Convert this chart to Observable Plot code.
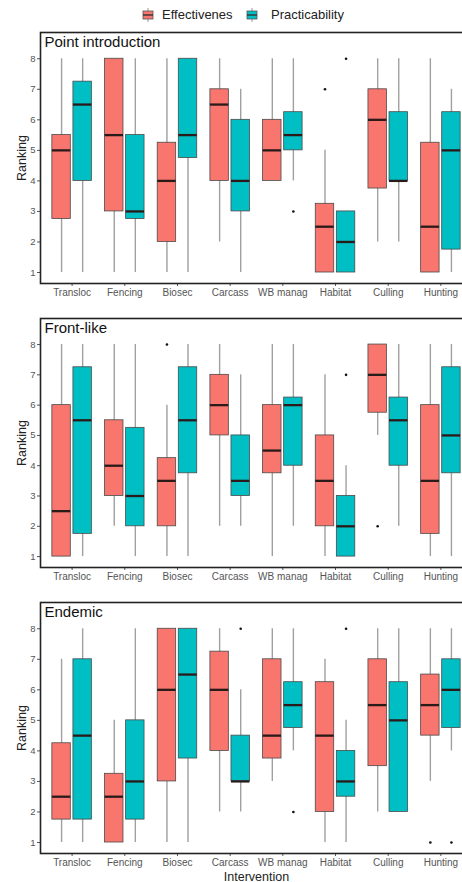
<!DOCTYPE html>
<html>
<head>
<meta charset="utf-8">
<script src="https://cdn.jsdelivr.net/npm/d3@7"></script>
<script src="https://cdn.jsdelivr.net/npm/@observablehq/plot@0.6"></script>
<style>
  html, body { margin: 0; padding: 0; background: #fff; }
  body { width: 462px; height: 882px; overflow: hidden; position: relative; font-family: "Liberation Sans", Arial, sans-serif; }
  .panel { position: absolute; left: 0; width: 472px; }
  .panel svg { max-width: none !important; }
  .leg { position: absolute; font-size: 13px; color: #222; }
</style>
</head>
<body>
<div id="legend"></div>
<div id="p0" class="panel" style="top:28px"></div>
<div id="p1" class="panel" style="top:314px"></div>
<div id="p2" class="panel" style="top:598px"></div>
<script>
const interventions = ["Transloc", "Fencing", "Biosec", "Carcass", "WB manag", "Habitat", "Culling", "Hunting"];
const groups = ["Effectivenes", "Practicability"];
const panelTitles = ["Point introduction", "Front-like", "Endemic"];
const yTicks = [1, 2, 3, 4, 5, 6, 7, 8];

// [lower whisker, q1, median, q3, upper whisker] per intervention
const pointEff  = [[1,2.75,5,5.5,8],[1,3,5.5,8,8],[1,2,4,5.25,8],[2,4,6.5,7,8],[4,4,5,6,8],[1,1,2.5,3.25,5],[2,3.75,6,7,8],[1,1,2.5,5.25,8]];
const pointPrac = [[1,4,6.5,7.25,8],[1,2.75,3,5.5,8],[1,4.75,5.5,8,8],[1,3,4,6,7],[4,5,5.5,6.25,8],[1,1,2,3,3],[2,4,4,6.25,8],[1,1.75,5,6.25,7]];
const frontEff  = [[1,1,2.5,6,8],[2,3,4,5.5,8],[1,2,3.5,4.25,6],[2,5,6,7,8],[1,3.75,4.5,6,8],[1,2,3.5,5,7],[5,5.75,7,8,8],[1,1.75,3.5,6,8]];
const frontPrac = [[1,1.75,5.5,7.25,8],[1,2,3,5.25,8],[1,3.75,5.5,7.25,8],[2,3,3.5,5,7],[2,4,6,6.25,8],[1,1,2,3,4],[2,4,5.5,6.25,8],[1,3.75,5,7.25,8]];
const endEff    = [[1,1.75,2.5,4.25,7],[1,1,2.5,3.25,5],[1,3,6,8,8],[2,4,6,7.25,8],[3,3.75,4.5,7,8],[1,2,4.5,6.25,7],[2,3.5,5.5,7,8],[3,4.5,5.5,6.5,8]];
const endPrac   = [[1,1.75,4.5,7,8],[1,1.75,3,5,8],[1,3.75,6.5,8,8],[2,3,3,4.5,6],[4,4.75,5.5,6.25,8],[1,2.5,3,4,5],[2,2,5,6.25,8],[4,4.75,6,7,8]];

// outliers: [panel, intervention, group, value]
const outliers = [
  [0, "WB manag", "Practicability", 3], [0, "Habitat", "Effectivenes", 7], [0, "Habitat", "Practicability", 8],
  [1, "Biosec", "Effectivenes", 8], [1, "Habitat", "Practicability", 7], [1, "Culling", "Effectivenes", 2],
  [2, "Carcass", "Practicability", 8], [2, "WB manag", "Practicability", 2], [2, "Habitat", "Practicability", 8],
  [2, "Hunting", "Effectivenes", 1], [2, "Hunting", "Practicability", 1]
];

const colors = ["#F8766D", "#00BFC4"];
const panelStats = [[pointEff, pointPrac], [frontEff, frontPrac], [endEff, endPrac]];
const dodge = 0.2, half = 0.175;
const xPos = (name, g) => interventions.indexOf(name) + (g === groups[0] ? -dodge : dodge);

function buildBoxes(p) {
  const rows = [];
  panelStats[p].forEach((arr, gi) => {
    arr.forEach((s, i) => {
      const xc = xPos(interventions[i], groups[gi]);
      rows.push({group: groups[gi], xc, x1: xc - half, x2: xc + half, lo: s[0], q1: s[1], med: s[2], q3: s[3], hi: s[4]});
    });
  });
  return rows;
}

// legend
const legend = document.getElementById("legend");
function icon(left, color) {
  const ns = "http://www.w3.org/2000/svg";
  const svg = document.createElementNS(ns, "svg");
  svg.setAttribute("width", 12); svg.setAttribute("height", 14);
  svg.style.position = "absolute"; svg.style.left = left + "px"; svg.style.top = "8px";
  svg.innerHTML = `<line x1="6" x2="6" y1="0" y2="14" stroke="#999" stroke-width="1"/>
    <rect x="1" y="3" width="10" height="8" fill="${color}" stroke="#555" stroke-width="0.8"/>
    <line x1="1" x2="11" y1="7" y2="7" stroke="#333" stroke-width="1.4"/>`;
  legend.appendChild(svg);
}
function label(left, text) {
  const d = document.createElement("div");
  d.className = "leg"; d.style.left = left + "px"; d.style.top = "7px"; d.textContent = text;
  legend.appendChild(d);
}
icon(142, colors[0]); label(162, groups[0]);
icon(246, colors[1]); label(271, groups[1]);

const frameH = [251, 249, 251];
panelTitles.forEach((title, p) => {
  const last = p === 2;
  const mb = last ? 29 : 22;
  const boxes = buildBoxes(p);
  const outs = outliers.filter(o => o[0] === p).map(o => ({xc: xPos(o[1], o[2]), v: o[3]}));
  const chart = Plot.plot({
    width: 472,
    height: 4 + frameH[p] + mb,
    marginLeft: 40, marginRight: 0, marginTop: 4, marginBottom: mb,
    style: {fontFamily: "Liberation Sans, Arial, sans-serif", background: "transparent", overflow: "visible", maxWidth: "none"},
    x: {domain: [-0.6, 7.6]},
    y: {domain: [0.64, 8.86]},
    color: {domain: groups, range: colors},
    marks: [
      Plot.ruleX(boxes, {x: "xc", y1: "lo", y2: "hi", stroke: "#a0a0a0", strokeWidth: 1.4}),
      Plot.rect(boxes, {x1: "x1", x2: "x2", y1: "q1", y2: "q3", fill: "group", stroke: "#4a4a4a", strokeWidth: 0.8}),
      Plot.ruleY(boxes, {x1: "x1", x2: "x2", y: "med", stroke: "#2a1a1a", strokeWidth: 2.3}),
      Plot.dot(outs, {x: "xc", y: "v", r: 1.3, fill: "#111", stroke: null}),
      Plot.axisX(d3.range(interventions.length), {
        tickFormat: i => interventions[i], tickSize: 3, tickPadding: 2, fontSize: 10,
        fill: "#555", stroke: "#555",
        label: last ? "Intervention" : null, labelAnchor: "center", labelOffset: 27, labelArrow: false
      }),
      Plot.axisY(yTicks, {
        tickSize: 3, tickPadding: 2, fontSize: 9.5, fill: "#555", stroke: "#555",
        label: "Ranking", labelAnchor: "center", labelOffset: 23, labelArrow: false
      }),
      Plot.frame({stroke: "#222", strokeWidth: 1.6}),
      Plot.text([title], {text: d => d, frameAnchor: "top-left", dx: 4, dy: 4, lineAnchor: "top", textAnchor: "start", fontSize: 15, fill: "#111"})
    ]
  });
  document.getElementById("p" + p).appendChild(chart);
});
// style axis labels
document.querySelectorAll('[aria-label="x-axis label"] text, [aria-label="y-axis label"] text').forEach(t => {
  t.setAttribute("font-size", 12.5); t.setAttribute("fill", "#222");
  t.textContent = t.textContent.replace(/[↑→←↓]/g, "").trim();
});
</script>
</body>
</html>
